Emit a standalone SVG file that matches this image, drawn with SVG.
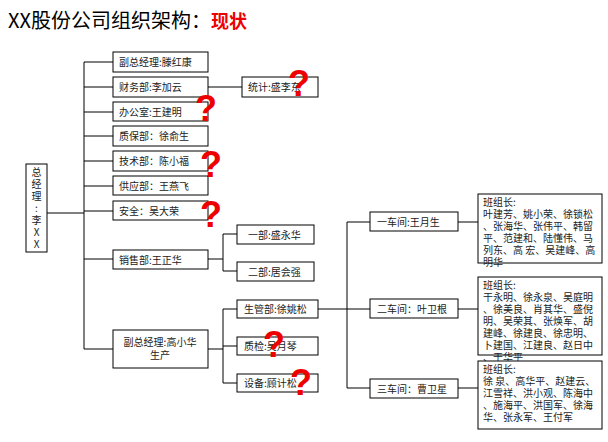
<svg xmlns="http://www.w3.org/2000/svg" width="608" height="442" viewBox="0 0 608 442">
<style>
.b{fill:#fff;stroke:#000;stroke-width:1}
.t{font-family:"Noto Sans CJK SC",sans-serif;font-size:10px;fill:#222}
.l{fill:none;stroke:#000;stroke-width:1}
.q{font-family:"Liberation Sans",sans-serif;font-size:36px;font-weight:bold;fill:#e00}
</style>
<rect width="608" height="442" fill="#fff"/>
<text x="8" y="28" style="font-family:'Noto Sans CJK SC',sans-serif;font-size:20px;fill:#000">XX股份公司组织架构：<tspan fill="#e00" font-weight="bold" font-size="18">现状</tspan></text>
<g id="connectors" class="l">
<path d="M47 213H84M84 62V349M84 62H113M84 87H113M84 112H113M84 136H113M84 161H113M84 186H113M84 211H113M84 259H113M84 349H113"/>
<path d="M208 87H242"/>
<path d="M208 259H223M223 234V271M223 234H237M223 271H237"/>
<path d="M208 349H223M223 309V383M223 309H237M223 346H237M223 383H237"/>
<path d="M318 309H347M347 222V388M347 222H370M347 309H370M347 388H370"/>
<path d="M458 222H478M458 309H478M458 388H478"/>
</g>
<g id="ceo"><rect class="b" x="26" y="164" width="21" height="88"/>
<text class="t" x="36.5" y="176" text-anchor="middle"><tspan x="36.5">总</tspan><tspan x="36.5" dy="12">经</tspan><tspan x="36.5" dy="12">理</tspan><tspan x="36.5" dy="12">:</tspan><tspan x="36.5" dy="12">李</tspan><tspan x="36.5" dy="12">X</tspan><tspan x="36.5" dy="12">X</tspan></text></g>
<g id="n1"><rect class="b" x="113" y="52" width="95" height="20"/><text class="t" x="119" y="66">副总经理:滕红康</text></g>
<g id="n2"><rect class="b" x="113" y="77" width="95" height="20"/><text class="t" x="119" y="91">财务部:李加云</text></g>
<g id="n3"><rect class="b" x="113" y="102" width="95" height="19"/><text class="t" x="119" y="116">办公室:王建明</text></g>
<g id="n4"><rect class="b" x="113" y="126" width="95" height="20"/><text class="t" x="119" y="140">质保部：徐俞生</text></g>
<g id="n5"><rect class="b" x="113" y="151" width="95" height="20"/><text class="t" x="119" y="165">技术部：陈小福</text></g>
<g id="n6"><rect class="b" x="113" y="176" width="95" height="19"/><text class="t" x="119" y="190">供应部：王燕飞</text></g>
<g id="n7"><rect class="b" x="113" y="201" width="95" height="19"/><text class="t" x="119" y="215">安全：吴大荣</text></g>
<g id="n8"><rect class="b" x="113" y="250" width="95" height="19"/><text class="t" x="119" y="264">销售部:王正华</text></g>
<g id="n9"><rect class="b" x="113" y="330" width="95" height="38"/><text class="t" x="160" y="346" text-anchor="middle">副总经理:高小华<tspan x="160" dy="13">生产</tspan></text></g>
<g id="stat"><rect class="b" x="242" y="77" width="76" height="20"/><text class="t" x="248" y="91">统计:盛李东</text></g>
<g id="s1"><rect class="b" x="237" y="225" width="77" height="19"/><text class="t" x="248" y="239">一部:盛永华</text></g>
<g id="s2"><rect class="b" x="237" y="262" width="77" height="19"/><text class="t" x="248" y="276">二部:居会强</text></g>
<g id="p1"><rect class="b" x="237" y="300" width="81" height="18"/><text class="t" x="244" y="313">生管部:徐姚松</text></g>
<g id="p2"><rect class="b" x="237" y="337" width="81" height="18"/><text class="t" x="244" y="350">质检:吴月琴</text></g>
<g id="p3"><rect class="b" x="237" y="374" width="81" height="18"/><text class="t" x="244" y="387">设备:顾计松</text></g>
<g id="w1"><rect class="b" x="370" y="212" width="88" height="19"/><text class="t" x="377" y="226">一车间:王月生</text></g>
<g id="w2"><rect class="b" x="370" y="299" width="88" height="19"/><text class="t" x="377" y="313">二车间：叶卫根</text></g>
<g id="w3"><rect class="b" x="370" y="379" width="88" height="19"/><text class="t" x="377" y="393">三车间：曹卫星</text></g>
<g id="r1"><rect class="b" x="478" y="194" width="124" height="69"/>
<text class="t" font-size="9.3" x="483" y="206"><tspan x="483">班组长:</tspan><tspan x="483" dy="12">叶建芳、姚小荣、徐锁松</tspan><tspan x="483" dy="12">、张海华、张伟平、韩留</tspan><tspan x="483" dy="12">平、范建和、陆懂伟、马</tspan><tspan x="483" dy="12">列东、高 宏、吴建峰、高</tspan><tspan x="483" dy="12">明华</tspan></text></g>
<g id="r2"><rect class="b" x="478" y="277" width="124" height="78"/>
<text class="t" font-size="9.3" x="483" y="289"><tspan x="483">班组长:</tspan><tspan x="483" dy="12">干永明、徐永泉、吴庭明</tspan><tspan x="483" dy="12">、徐美良、肖其华、盛倪</tspan><tspan x="483" dy="12">明、吴荣其、张焕军、胡</tspan><tspan x="483" dy="12">建峰、徐建良、徐忠明、</tspan><tspan x="483" dy="12">卜建国、江建良、赵日中</tspan><tspan x="483" dy="12">、干华平</tspan></text></g>
<g id="r3"><rect class="b" x="478" y="361" width="124" height="68"/>
<text class="t" font-size="9.3" x="483" y="373"><tspan x="483">班组长:</tspan><tspan x="483" dy="12">徐 泉、高华平、赵建云、</tspan><tspan x="483" dy="12">江雪祥、洪小观、陈海中</tspan><tspan x="483" dy="12">、施海平、洪国军、徐海</tspan><tspan x="483" dy="12">华、张永军、王付军</tspan></text></g>
<g id="marks">
<text class="q" x="288" y="96">?</text>
<text class="q" x="195" y="121">?</text>
<text class="q" x="200" y="177">?</text>
<text class="q" x="200" y="227">?</text>
<text class="q" x="263" y="357">?</text>
<text class="q" x="290" y="395">?</text>
</g>
</svg>
